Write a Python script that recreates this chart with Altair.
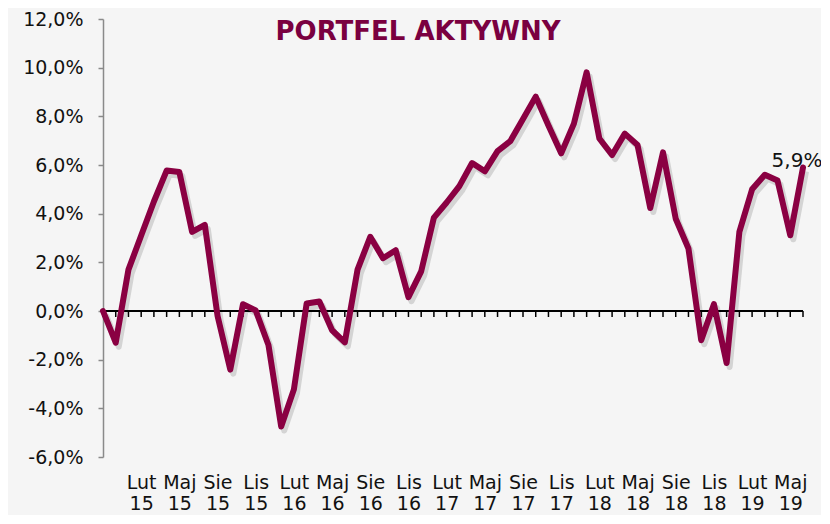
import json
import altair as alt
import pandas as pd

# Monthly categories (Nov 2014 .. Jun 2019), Polish month abbreviations
categories = [
    "Lis 14", "Gru 14",
    "Sty 15", "Lut 15", "Mar 15", "Kwi 15", "Maj 15", "Cze 15", "Lip 15", "Sie 15", "Wrz 15", "Paź 15", "Lis 15", "Gru 15",
    "Sty 16", "Lut 16", "Mar 16", "Kwi 16", "Maj 16", "Cze 16", "Lip 16", "Sie 16", "Wrz 16", "Paź 16", "Lis 16", "Gru 16",
    "Sty 17", "Lut 17", "Mar 17", "Kwi 17", "Maj 17", "Cze 17", "Lip 17", "Sie 17", "Wrz 17", "Paź 17", "Lis 17", "Gru 17",
    "Sty 18", "Lut 18", "Mar 18", "Kwi 18", "Maj 18", "Cze 18", "Lip 18", "Sie 18", "Wrz 18", "Paź 18", "Lis 18", "Gru 18",
    "Sty 19", "Lut 19", "Mar 19", "Kwi 19", "Maj 19", "Cze 19",
]

# Portfolio values in %
values = [
    0.0, -1.3, 1.7, 3.1, 4.5, 5.77, 5.71, 3.25, 3.54, -0.2,
    -2.41, 0.28, 0.02, -1.4, -4.75, -3.22, 0.31, 0.39, -0.79, -1.29,
    1.7, 3.05, 2.17, 2.5, 0.57, 1.63, 3.84, 4.46, 5.13, 6.08,
    5.74, 6.57, 6.98, 7.89, 8.81, 7.62, 6.48, 7.7, 9.81, 7.09,
    6.41, 7.29, 6.82, 4.23, 6.52, 3.79, 2.57, -1.2, 0.28, -2.14,
    3.25, 5.0, 5.6, 5.36, 3.11, 5.9,
]

y_ticks = [-6, -4, -2, 0, 2, 4, 6, 8, 10, 12]
label_every = 3
title_text = "PORTFEL AKTYWNY"

LINE = "#8a0042"
FONT = "DejaVu Sans"

df = pd.DataFrame({"idx": list(range(len(values))), "month": categories, "value": values})
last = df.tail(1).copy()
last["txt"] = last["value"].map(lambda v: f"{v:.1f}".replace(".", ",") + "%")

label_values = list(range(label_every, len(values), label_every))
label_expr = f"split({json.dumps(categories, ensure_ascii=False)}[datum.value], ' ')"

x_enc = alt.X(
    "idx:Q",
    scale=alt.Scale(domain=[0, len(values) - 1], nice=False, zero=False),
    axis=alt.Axis(
        title=None, values=label_values, labelExpr=label_expr, domain=False, ticks=False,
        grid=False, labelFont=FONT, labelFontSize=19, labelColor="#111111",
        labelLineHeight=21, labelPadding=16, labelBaseline="top", labelFlush=False,
        labelOverlap=False,
    ),
)
y_enc = alt.Y(
    "value:Q",
    scale=alt.Scale(domain=[-6, 12], nice=False),
    axis=alt.Axis(
        title=None, values=y_ticks, grid=False, domainColor="#8a8a8a", domainWidth=1.5,
        tickColor="#8a8a8a", tickSize=5, tickWidth=1.5,
        labelExpr="replace(replace(format(datum.value, '.1f'), '.', ','), '\u2212', '-') + '%'",
        labelFont=FONT, labelFontSize=19, labelColor="#111111", labelPadding=15,
    ),
)

base = alt.Chart(df)

shadow = base.mark_line(color="#b8b8b8", strokeWidth=6, opacity=0.55, xOffset=3, yOffset=4,
                        strokeJoin="round").encode(x=x_enc, y=y_enc)

zero = base.mark_rule(color="#000000", strokeWidth=2).encode(y=alt.datum(0))

ticks = base.mark_rule(color="#000000", strokeWidth=1.5, y2Offset=6).encode(
    x=x_enc, y=alt.datum(0), y2=alt.datum(0)
)

line = base.mark_line(color=LINE, strokeWidth=6, strokeJoin="round", strokeCap="round").encode(
    x=x_enc, y=y_enc
)

lbl = alt.Chart(last).mark_text(font=FONT, fontSize=20, color="#111111", align="center",
                                baseline="alphabetic", dx=-6, dy=0).encode(
    x=x_enc, y=y_enc, text="txt:N"
)

title_df = pd.DataFrame({"t": [title_text]})
title = alt.Chart(title_df).mark_text(font=FONT, fontSize=26, fontWeight="bold", color="#7a0040",
                                      align="center", baseline="alphabetic").encode(
    x=alt.value(315), y=alt.value(21), text="t:N"
)

chart = alt.layer(shadow, zero, ticks, line, lbl, title).properties(
    width=700, height=438,
    autosize=alt.AutoSizeParams(type="none"),
    padding={"left": 95, "top": 11, "right": 18, "bottom": 58},
    background="#f5f5f5",
).configure_view(stroke=None)

chart.save("out.html", embed_options={"renderer": "svg", "actions": False})
